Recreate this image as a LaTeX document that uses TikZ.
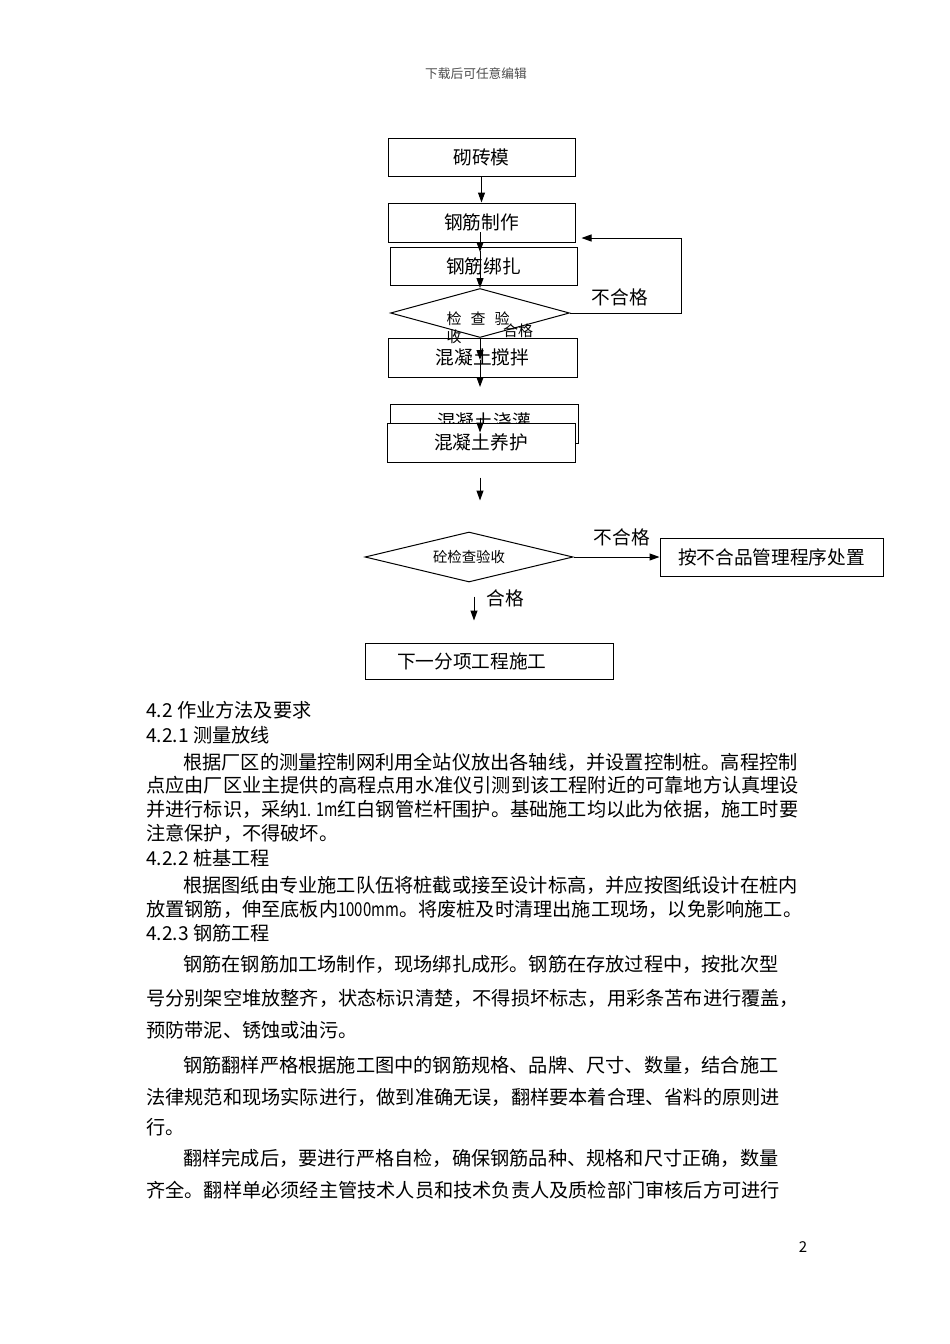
\documentclass[tikz,border=0pt]{standalone}
\usepackage{fontspec}
\usepackage{graphicx}
\setmainfont{Noto Sans CJK SC}
\usetikzlibrary{arrows.meta,shapes.geometric}

\begin{document}
\begin{tikzpicture}[x=1pt,y=-1pt,>={Triangle[length=10pt,width=7pt]},every node/.style={inner sep=0pt}]
  \tikzset{bx/.style={rectangle,draw,line width=1pt,minimum width=187pt,minimum height=38pt,font=\fontsize{18.7}{22}\selectfont},
    dm/.style={diamond,draw,line width=1pt,aspect=4.2},
    lb/.style={font=\fontsize{18.7}{22}\selectfont},
    tx/.style={anchor=west,font=\fontsize{19.2}{23}\selectfont}}
  \path[use as bounding box,fill=white] (0,0) rectangle (950,1344);
  \node[font=\fontsize{12.7}{15}\selectfont,text=black!70] (hd) at (476,74) {下载后可任意编辑};
  % flow
  \node[bx] (b1) at (481.5,157) {砌砖模};
  \node[bx,minimum height=39pt] (b2) at (481.5,222.5) {钢筋制作};
  \node[bx] (b3) at (483.5,266) {钢筋绑扎};
  \node[dm,minimum width=179pt,minimum height=49pt] (d1) at (480,313) {};
  \node[font=\fontsize{15}{18}\selectfont,align=left] (d1t) at (478,328) {检\hspace{9pt}查\hspace{9pt}验\\收};
  \node[bx,minimum width=189pt,minimum height=39pt] (b4) at (482.5,357.5) {混凝土搅拌};
  \node[bx,minimum width=188pt,minimum height=39pt] (b5) at (484,423.5) {\raisebox{5pt}{混凝土浇灌}};
  \node[bx,fill=white,minimum width=188pt,minimum height=39pt] (b6) at (481,442.5) {混凝土养护};
  \node[dm,minimum width=208pt,minimum height=50pt,font=\fontsize{14.4}{17}\selectfont] (d2) at (469,557) {砼检查验收};
  \node[bx,minimum width=223pt] (b7) at (771.5,557) {按不合品管理程序处置};
  \node[bx,minimum width=248pt,minimum height=36pt,text width=184pt,align=left,inner xsep=32pt] (b8) at (489,661) {下一分项工程施工};
  \node[lb] (n1) at (620,297) {不合格};
  \node[font=\fontsize{15}{18}\selectfont] (h1) at (518,331) {合格};
  \node[lb] (n2) at (622,537) {不合格};
  \node[lb] (h2) at (505,598) {合格};
  \draw[->,line width=1pt] (b1) -- (b2);
  \draw[->,line width=1pt] (b2.center) ++(-1.5,9.5) -- ++(0,20);
  \draw[->,line width=1pt] (d1.north) ++(0,-37) -- (d1.north);
  \draw[->,line width=1pt] (d1.south) -- ++(0,22);
  \draw[->,line width=1pt] (d1.south) ++(0,22) -- ++(0,27);
  \draw[->,line width=1pt] (b6.north) ++(-1,-5) -- ++(0,15);
  \draw[->,line width=1pt] (b6.south) ++(-1,15) -- ++(0,23);
  \draw[->,line width=1pt] (d1.east) -- ++(111,0) |- ([xshift=6pt,yshift=-15.5pt]b2.east);
  \draw[->,line width=1pt] (d2.east) -- (b7.west);
  \draw[->,line width=1pt] (b8.north) ++(-15,-46) -- ++(0,24);
  % text
  \node[tx] (l1) at (146,710) {4.2 作业方法及要求};
  \node[tx] (l2) at (146,735) {4.2.1 测量放线};
  \node[tx] (l3) at (183,762) {根据厂区的测量控制网利用全站仪放出各轴线，并设置控制桩。高程控制};
  \node[tx] (l4) at (146,785) {点应由厂区业主提供的高程点用水准仪引测到该工程附近的可靠地方认真埋设};
  \node[tx] (l5) at (146,809) {并进行标识，采纳\scalebox{0.75}[1]{1. 1m}红白钢管栏杆围护。基础施工均以此为依据，施工时要};
  \node[tx] (l6) at (146,833) {注意保护，不得破坏。};
  \node[tx] (l7) at (146,858) {4.2.2 桩基工程};
  \node[tx] (l8) at (183,885) {根据图纸由专业施工队伍将桩截或接至设计标高，并应按图纸设计在桩内};
  \node[tx] (l9) at (146,909) {放置钢筋，伸至底板内\scalebox{0.78}[1]{1000mm}。将废桩及时清理出施工现场，以免影响施工。};
  \node[tx] (l10) at (146,933) {4.2.3 钢筋工程};
  \node[tx] (l11) at (183,964) {钢筋在钢筋加工场制作，现场绑扎成形。钢筋在存放过程中，按批次型};
  \node[tx] (l12) at (146,998) {号分别架空堆放整齐，状态标识清楚，不得损坏标志，用彩条苫布进行覆盖，};
  \node[tx] (l13) at (146,1030) {预防带泥、锈蚀或油污。};
  \node[tx] (l14) at (183,1065) {钢筋翻样严格根据施工图中的钢筋规格、品牌、尺寸、数量，结合施工};
  \node[tx] (l15) at (146,1097) {法律规范和现场实际进行，做到准确无误，翻样要本着合理、省料的原则进};
  \node[tx] (l16) at (146,1127) {行。};
  \node[tx] (l17) at (183,1158) {翻样完成后，要进行严格自检，确保钢筋品种、规格和尺寸正确，数量};
  \node[tx] (l18) at (146,1190) {齐全。翻样单必须经主管技术人员和技术负责人及质检部门审核后方可进行};
  \node[font=\fontsize{15}{18}\selectfont] (pg) at (803,1247) {2};
\end{tikzpicture}
\end{document}
